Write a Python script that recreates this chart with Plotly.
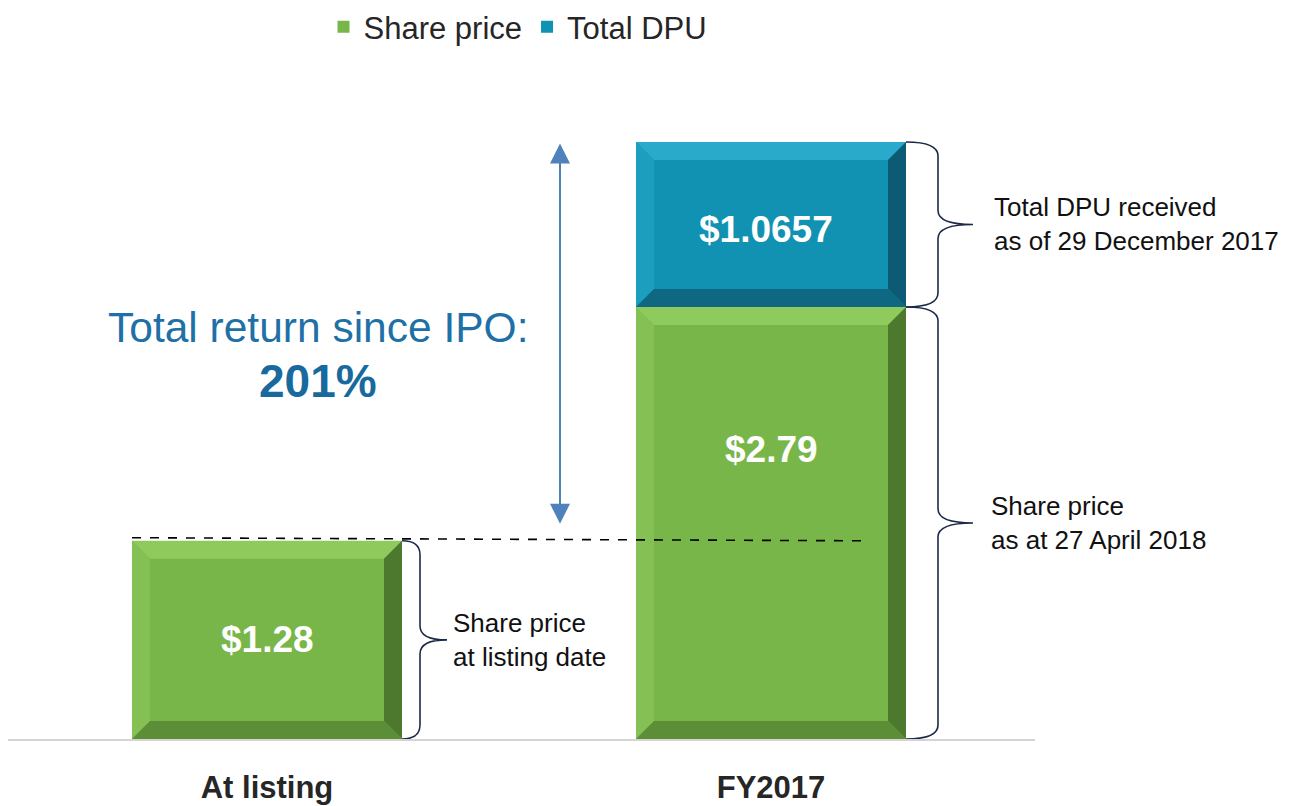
import plotly.graph_objects as go

# ---- data ----
categories = ["At listing", "FY2017"]
share_price = [1.28, 2.79]
total_dpu = [None, 1.0657]
share_labels = ["$1.28", "$2.79"]
dpu_labels = ["", "$1.0657"]
total_return_pct = "201%"

# ---- style / layout constants (page has an 8px body offset) ----
OFF = 8
W, H = 1289 - OFF, 806 - OFF
ML, MR, MT, MB = 0, 254, 59, 67
px_x = 504.0                         # pixels per x unit
YMAX = 4.34
px_y = (H - MT - MB) / YMAX          # pixels per y unit
X0_PAGE = 267                        # page x of first category
XR = [-(X0_PAGE - OFF) / px_x, (W - MR + OFF - X0_PAGE) / px_x]
BASE_PAGE = 739
BAR_W = 270 / px_x
FONT = "Liberation Sans, Arial, sans-serif"

GREEN = "#79b64a"
GREEN_TOP = "#8fcb5c"
GREEN_LEFT = "#84c053"
GREEN_RIGHT = "#4d792e"
GREEN_BOT = "#5c8e37"
TEAL = "#1192b2"
TEAL_TOP = "#2aaacb"
TEAL_LEFT = "#1c9fbf"
TEAL_RIGHT = "#0c5a73"
TEAL_BOT = "#0f6882"

fig = go.Figure()
fig.add_trace(go.Bar(x=categories, y=share_price, name="Share price", width=BAR_W,
                     marker=dict(color=GREEN, line=dict(width=0)), hoverinfo="skip"))
fig.add_trace(go.Bar(x=categories, y=total_dpu, name="Total DPU", width=BAR_W,
                     marker=dict(color=TEAL, line=dict(width=0)), hoverinfo="skip"))

shapes = []
annotations = []

def bevel(xc, b, t, cols):
    w = BAR_W / 2
    bx = 18 / px_x
    by = min(18 / px_y, (t - b) / 2)
    top, left, right, bot = cols
    faces = [
        (top, [(xc - w, t), (xc + w, t), (xc + w - bx, t - by), (xc - w + bx, t - by)]),
        (left, [(xc - w, b), (xc - w, t), (xc - w + bx, t - by), (xc - w + bx, b + by)]),
        (right, [(xc + w, b), (xc + w, t), (xc + w - bx, t - by), (xc + w - bx, b + by)]),
        (bot, [(xc - w, b), (xc + w, b), (xc + w - bx, b + by), (xc - w + bx, b + by)]),
    ]
    for col, pts in faces:
        path = "M " + " L ".join(f"{px},{py}" for px, py in pts) + " Z"
        shapes.append(dict(type="path", path=path, xref="x", yref="y",
                           fillcolor=col, line=dict(width=0), layer="above"))

green_cols = (GREEN_TOP, GREEN_LEFT, GREEN_RIGHT, GREEN_BOT)
teal_cols = (TEAL_TOP, TEAL_LEFT, TEAL_RIGHT, TEAL_BOT)

for i in range(len(categories)):
    sp = share_price[i]
    bevel(i, 0, sp, green_cols)
    d = total_dpu[i]
    if d:
        bevel(i, sp, sp + d, teal_cols)

# value labels
label_frac = [0.5, 0.67]
for i in range(len(categories)):
    annotations.append(dict(x=i, y=share_price[i] * label_frac[i], xref="x", yref="y",
                            text=f"<b>{share_labels[i]}</b>", showarrow=False,
                            font=dict(family=FONT, size=37, color="white")))
    if total_dpu[i]:
        annotations.append(dict(x=i - 0.01, y=share_price[i] + total_dpu[i] * 0.47, xref="x", yref="y",
                                text=f"<b>{dpu_labels[i]}</b>", showarrow=False,
                                font=dict(family=FONT, size=37, color="white")))

# braces
def brace(xc, y0, y1, v_off, tip_off, text, text_off):
    xe = xc + BAR_W / 2
    xv = xe + v_off / px_x
    xt = xe + tip_off / px_x
    c = 14 / px_y
    ym = (y0 + y1) / 2
    path = (f"M {xe},{y1} Q {xv},{y1} {xv},{y1 - c} L {xv},{ym + c} "
            f"Q {xv},{ym} {xt},{ym} Q {xv},{ym} {xv},{ym - c} "
            f"L {xv},{y0 + c} Q {xv},{y0} {xe},{y0}")
    shapes.append(dict(type="path", path=path, xref="x", yref="y",
                       line=dict(color="#1c2a4a", width=1.6), layer="above"))
    annotations.append(dict(x=xe, y=ym, xref="x", yref="y", text=text, showarrow=False,
                            xanchor="left", yanchor="middle", align="left", xshift=text_off,
                            font=dict(family=FONT, size=26, color="#111111")))

brace(0, 0, share_price[0], 18, 45, "Share price<br>at listing date", 49)
brace(1, 0, share_price[1], 32, 67, "Share price<br>as at 27 April 2018", 83)
brace(1, share_price[1], share_price[1] + total_dpu[1], 32, 67,
      "Total DPU received<br>as of 29 December 2017", 86)

# dashed reference line at listing price
shapes.append(dict(type="line", xref="x", yref="y", x0=-BAR_W / 2, x1=(868 - X0_PAGE) / px_x,
                   y0=share_price[0] + 0.02, y1=share_price[0],
                   line=dict(color="black", width=1.6, dash="dash"), layer="above"))

# double-headed arrow
xa = (560 - X0_PAGE) / px_x
annotations.append(dict(x=xa, y=share_price[1] + total_dpu[1] - 0.01, ax=xa, ay=share_price[0] + 0.1,
                        xref="x", yref="y", axref="x", ayref="y", text="", showarrow=True,
                        arrowhead=2, startarrowhead=2, arrowside="end+start", arrowsize=2,
                        startarrowsize=2, arrowwidth=2, arrowcolor="#4f81bd"))

# total return text
tr_x = (318 - X0_PAGE) / px_x
annotations.append(dict(x=tr_x, y=(BASE_PAGE - 327) / px_y, xref="x", yref="y",
                        text="Total return since IPO:", showarrow=False,
                        font=dict(family=FONT, size=42.5, color="#1f70a6")))
annotations.append(dict(x=tr_x, y=(BASE_PAGE - 381) / px_y, xref="x", yref="y",
                        text=f"<b>{total_return_pct}</b>", showarrow=False,
                        font=dict(family=FONT, size=46, color="#186a9e")))

plot_w = W - ML - MR
plot_h = H - MT - MB
fig.update_layout(
    width=W, height=H,
    margin=dict(l=ML, r=MR, t=MT, b=MB, pad=0, autoexpand=False),
    paper_bgcolor="white", plot_bgcolor="white",
    barmode="stack",
    showlegend=True,
    legend=dict(orientation="h", x=(518 - OFF - ML) / plot_w, xanchor="center",
                y=1 + (MT - (27 - OFF)) / plot_h, yanchor="middle", traceorder="normal",
                font=dict(family=FONT, size=31, color="#262626"),
                itemwidth=30),
    xaxis=dict(range=XR, showgrid=False, zeroline=False, showline=True,
               linecolor="#d4d4d4", linewidth=2, ticks="", ticklabelstandoff=20,
               automargin=False,
               tickfont=dict(family=FONT, size=31, color="#262626", weight="bold")),
    yaxis=dict(range=[0, YMAX], visible=False, showgrid=False, zeroline=False, automargin=False),
    shapes=shapes,
    annotations=annotations,
)

fig.write_html("out.html")
